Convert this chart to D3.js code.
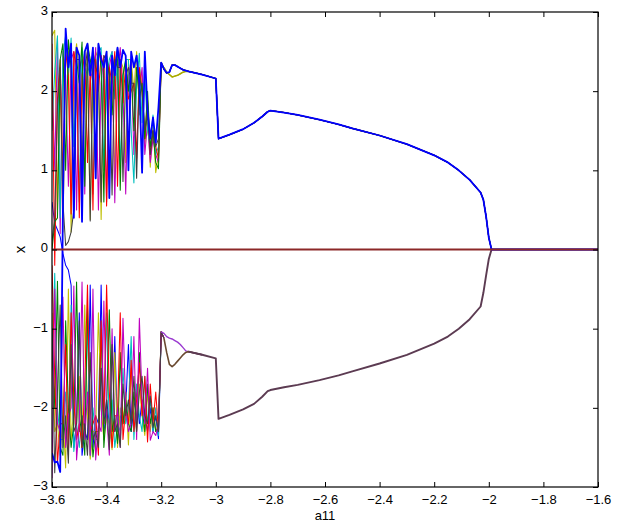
<!DOCTYPE html>
<html><head><meta charset="utf-8">
<script src="https://cdn.jsdelivr.net/npm/d3@7"></script>
<style>
html,body{margin:0;padding:0;background:#fff;}
svg{display:block;font-family:"Liberation Sans",Arial,Helvetica,sans-serif;}
</style></head>
<body>
<svg id="chart" width="617" height="523"></svg>
<script>
// ---------------- data ----------------
const xTicks = [-3.6, -3.4, -3.2, -3.0, -2.8, -2.6, -2.4, -2.2, -2.0, -1.8, -1.6];
const yTicks = [-3, -2, -1, 0, 1, 2, 3];

// a11 values of the chaotic region
const aChaos = [-3.60,-3.59,-3.58,-3.57,-3.56,-3.55,-3.54,-3.53,-3.52,-3.51,
                -3.50,-3.49,-3.48,-3.47,-3.46,-3.45,-3.44,-3.43,-3.42,-3.41,
                -3.40,-3.39,-3.38,-3.37,-3.36,-3.35,-3.34,-3.33,-3.32,-3.31,
                -3.30,-3.29,-3.28,-3.27,-3.26,-3.25,-3.24,-3.23,-3.22,-3.21];

// upper group (chaotic part)
const upYellow  = [2.70,2.77,0.50,2.20,0.22,2.40,2.50,0.22,2.30,2.60, 2.20,0.50,2.40,2.30,0.38,2.10,2.50,2.40,0.38,2.30, 2.50,1.90,2.40,0.90,2.30,2.40,2.30,1.10,2.40,2.40, 2.00,2.50,1.70,2.20,1.30,1.80,1.04,1.60,0.97,1.20];
const upMagenta = [2.30,1.00,2.67,0.20,2.50,2.20,0.80,2.40,2.50,0.50, 2.30,2.40,0.70,2.55,2.30,2.10,2.55,0.50,2.10,2.45, 0.60,2.30,2.50,0.59,2.20,2.55,2.00,0.70,2.20,2.40, 1.20,2.30,2.00,2.30,1.20,1.60,1.10,1.40,1.20,1.10];
const upCyan    = [1.50,2.25,2.70,0.40,2.45,2.71,2.20,2.67,1.30,2.50, 0.60,2.55,2.30,2.20,2.40,0.70,2.30,2.50,2.55,1.00, 2.20,2.40,2.50,1.90,2.40,1.00,2.20,2.40,2.40,1.50, 0.84,2.10,2.48,1.60,2.20,1.50,1.30,1.70,1.20,1.30];
const upRed     = [2.60,-0.20,1.90,2.40,0.90,2.50,2.20,0.45,2.50,2.30, 0.40,2.20,2.50,1.10,2.30,0.50,2.40,2.00,2.45,2.30, 0.55,2.30,2.10,2.50,0.80,2.40,1.85,2.35,1.90,2.00, 2.10,1.15,2.30,1.99,1.40,1.89,1.20,1.50,1.30,1.15];
const upGreen   = [0.00,0.35,0.40,2.40,2.60,1.00,2.65,2.30,0.50,2.40, 2.10,2.62,0.80,2.60,2.40,2.20,0.90,2.60,2.30,0.60, 2.45,2.20,1.70,2.30,2.55,0.75,2.20,2.40,2.00,2.30, 1.50,2.30,1.90,2.10,1.40,2.00,1.30,1.50,1.10,1.02];
const upGray    = [0.10,0.40,1.80,2.30,0.60,0.05,0.10,0.22,0.50,2.40, 2.40,1.00,2.30,2.50,0.36,2.50,2.30,2.20,0.60,2.45, 2.40,2.20,0.69,2.40,2.30,2.30,0.86,2.20,2.30,2.10, 2.10,0.90,2.20,2.00,1.50,1.70,1.20,1.50,1.30,1.40];
const upBlue    = [-2.57,-2.69,-2.68,-2.81,0.50,2.79,2.30,2.60,0.40,2.55, 2.45,0.35,2.50,2.60,2.20,2.55,0.90,2.60,2.40,2.30, 2.50,0.65,2.45,2.20,2.55,2.30,2.52,2.45,1.00,2.50, 2.30,2.45,2.10,0.97,2.50,1.75,1.40,1.67,1.35,1.80];

// lower group (chaotic part)
const loBlue    = [0.60,0.33,0.25,0.16,-0.05,-0.20,-0.26,-0.45,-2.50,-2.20, -0.80,-2.60,-2.30,-2.40,-0.45,-2.50,-2.10,-2.20,-0.45,-2.40, -1.90,-2.20,-2.45,-1.10,-2.30,-2.10,-2.20,-2.00,-1.20,-2.30, -2.00,-1.80,-2.20,-1.90,-2.10,-2.30,-2.00,-2.30,-2.10,-2.39];
const loYellow  = [-0.80,-2.30,-2.20,-2.60,-2.10,-2.76,-0.50,-2.40,-2.00,-2.20, -1.60,-2.50,-0.70,-2.10,-2.65,-2.30,-2.30,-0.80,-2.00,-2.40, -2.10,-2.20,-2.53,-1.30,-2.50,-2.00,-2.20,-1.80,-2.47,-1.50, -2.00,-2.30,-1.70,-2.10,-2.35,-1.80,-2.30,-2.00,-2.30,-2.20];
const loCyan    = [-1.50,-0.30,-2.00,-2.40,-2.40,-1.80,-2.30,-0.70,-2.55,-2.20, -2.50,-2.10,-2.30,-0.90,-2.60,-2.00,-2.40,-2.40,-1.50,-2.20, -0.80,-2.30,-1.90,-2.50,-2.20,-2.30,-1.50,-2.20,-2.00,-1.10, -2.40,-1.70,-2.10,-2.30,-1.60,-2.20,-1.90,-2.30,-2.00,-2.35];
const loGreen   = [-1.00,-2.00,-0.40,-2.50,-2.60,-0.90,-2.00,-2.50,-2.20,-0.41, -2.30,-2.10,-2.60,-0.72,-2.00,-2.62,-2.30,-2.30,-1.00,-2.50, -2.00,-0.76,-2.30,-2.10,-2.45,-1.30,-2.20,-1.90,-2.20,-2.30, -1.80,-2.20,-1.30,-2.00,-2.30,-1.70,-2.20,-2.00,-2.30,-2.25];
const loRed     = [-0.20,-1.60,-2.70,-2.20,-2.20,-1.20,-2.60,-0.80,-1.90,-2.40, -2.20,-2.50,-1.70,-0.45,-2.30,-2.20,-2.10,-2.60,-0.90,-2.20, -0.45,-1.80,-2.50,-2.10,-2.10,-0.80,-2.40,-2.00,-2.20,-1.40, -2.30,-1.90,-1.43,-2.10,-1.60,-2.43,-1.70,-2.20,-1.80,-2.30];
const loMagenta = [-2.89,-0.50,-2.20,-2.30,-0.60,-2.50,-2.10,-2.00,-0.46,-2.66, -2.20,-0.41,-2.40,-1.80,-2.60,-0.50,-2.66,-2.20,-2.30,-0.65, -2.10,-2.60,-1.00,-2.30,-2.00,-2.50,-0.87,-2.00,-2.30,-2.20, -1.10,-2.40,-0.87,-1.90,-2.20,-1.50,-2.41,-2.30,-2.35,-2.20];
const loGray    = [-1.00,-2.82,-1.80,-0.70,-2.50,-2.10,-2.70,-1.20,-2.30,-2.20, -0.90,-2.50,-2.20,-2.60,-1.30,-2.40,-2.30,-2.50,-1.50,-2.20, -1.90,-2.53,-1.20,-2.30,-2.20,-2.50,-1.70,-2.10,-1.90,-2.20, -1.60,-2.30,-1.80,-1.60,-2.10,-2.20,-1.85,-2.25,-2.10,-2.30];

// a11 values of the regular region
const aStable = [-3.20,-3.19,-3.18,-3.17,-3.16,-3.15,-3.14,-3.13,-3.12,-3.11,-3.10,-3.05,-3.00,-2.99,-2.95,-2.90,-2.86,-2.83,-2.81,-2.80,
                 -2.75,-2.70,-2.62,-2.55,-2.50,-2.40,-2.30,-2.20,-2.15,-2.11,-2.07,-2.03,-2.02,-2.01,-2.00,-1.99,-1.60];
const upStableA = [2.36,2.28,2.23,2.24,2.33,2.33,2.31,2.29,2.27,2.26,2.25,2.21,2.16,1.40,1.45,1.52,1.60,1.68,1.74,1.755,
                   1.73,1.70,1.64,1.58,1.53,1.44,1.33,1.19,1.10,1.00,0.88,0.72,0.63,0.42,0.15,0.00,0.00];
const upStableB = [2.36,2.30,2.24,2.21,2.18,2.19,2.20,2.22,2.24,2.25,2.25,2.21,2.16,1.40,1.45,1.52,1.60,1.68,1.74,1.755,
                   1.73,1.70,1.64,1.58,1.53,1.44,1.33,1.19,1.10,1.00,0.88,0.72,0.63,0.42,0.15,0.00,0.00];
const loStableA = [-1.04,-1.12,-1.30,-1.45,-1.48,-1.45,-1.41,-1.37,-1.33,-1.30,-1.29,-1.33,-1.375,-2.14,-2.09,-2.02,-1.95,-1.86,-1.79,-1.775,
                   -1.74,-1.71,-1.65,-1.59,-1.54,-1.44,-1.33,-1.19,-1.10,-1.00,-0.88,-0.72,-0.55,-0.33,-0.12,0.00,0.00];
const loStableB = [-1.04,-1.06,-1.10,-1.12,-1.13,-1.15,-1.17,-1.20,-1.24,-1.28,-1.29,-1.33,-1.375,-2.14,-2.09,-2.02,-1.95,-1.86,-1.79,-1.775,
                   -1.74,-1.71,-1.65,-1.59,-1.54,-1.44,-1.33,-1.19,-1.10,-1.00,-0.88,-0.72,-0.55,-0.33,-0.12,0.00,0.00];

const zeroA = [-3.60, -1.60];
const zeroX = [0, 0];

// ---------------- layout ----------------
const svg = d3.select("#chart");
const L = 52, R = 598, T = 12, B = 487;
const x = d3.scaleLinear().domain([-3.6, -1.6]).range([L, R]);
const y = d3.scaleLinear().domain([-3, 3]).range([B, T]);

svg.append("defs").append("clipPath").attr("id","clip")
  .append("rect").attr("x",L).attr("y",T).attr("width",R-L).attr("height",B-T);

const plot = svg.append("g").attr("clip-path","url(#clip)");
const line = d3.line().x(d => x(d[0])).y(d => y(d[1]));
const pairs = (as, vs) => as.map((a,i) => [a, vs[i]]);

const C = {b:"#0000ff", g:"#008000", r:"#ff0000", c:"#00bfbf", m:"#bf00bf", y:"#bfbf00", k:"#404040"};

function draw(pts, color, w){
  plot.append("path").attr("d", line(pts)).attr("fill","none")
    .attr("stroke", color).attr("stroke-width", w).attr("stroke-linejoin","round");
}

// lower group
const lowerSeries = [[loBlue,C.b],[loYellow,C.y],[loCyan,C.c],[loGreen,C.g],[loRed,C.r],[loMagenta,C.m],[loGray,C.k]];
lowerSeries.forEach(([v,c]) => {
  const pts = pairs(aChaos, v).concat([[aStable[0], loStableA[0]], [aStable[1], loStableA[1]]]);
  draw(pts, c, 1.05);
});
draw(pairs(aStable.slice(0,12), loStableB.slice(0,12)), "#9a3ad0", 1.4);
draw(pairs(aStable.slice(1,12), loStableA.slice(1,12)), "#6a4a30", 1.6);
draw(pairs(aStable.slice(10), loStableA.slice(10)), "#5c3b52", 1.9);

// upper group
const upperSeries = [[upYellow,C.y,upStableB],[upMagenta,C.m,upStableA],[upCyan,C.c,upStableA],[upRed,C.r,upStableA],
                     [upGreen,C.g,upStableA],[upGray,C.k,upStableA]];
upperSeries.forEach(([v,c,s]) => {
  draw(pairs(aChaos, v).concat(pairs(aStable, s)), c, 1.05);
});
draw(pairs(aStable.slice(1,11), upStableB.slice(1,11)), "#a9a900", 1.5);
draw(pairs(aChaos, upBlue).concat(pairs(aStable, upStableA)), C.b, 1.8);

// zero branch
draw(pairs(zeroA, zeroX), "#8c2828", 2);

// ---------------- axes ----------------
const fmt = d => (d < 0 ? "\u2212" : "") + Math.abs(d).toString();
const fmtX = d => (d < 0 ? "\u2212" : "") + (Math.abs(d) === 3 || Math.abs(d) === 2 ? Math.abs(d).toString() : Math.abs(d).toFixed(1));

const gx = svg.append("g").attr("transform",`translate(0,${B})`)
  .call(d3.axisBottom(x).tickValues(xTicks).tickSize(-5).tickPadding(8).tickFormat(fmtX));
const gxt = svg.append("g").attr("transform",`translate(0,${T})`)
  .call(d3.axisTop(x).tickValues(xTicks).tickSize(-5).tickFormat(""));
const gy = svg.append("g").attr("transform",`translate(${L},0)`)
  .call(d3.axisLeft(y).tickValues(yTicks).tickSize(-5).tickPadding(5).tickFormat(fmt));
const gyr = svg.append("g").attr("transform",`translate(${R},0)`)
  .call(d3.axisRight(y).tickValues(yTicks).tickSize(-5).tickFormat(""));

[gx,gxt,gy,gyr].forEach(g => {
  g.select(".domain").remove();
  g.selectAll("line").attr("stroke","#000").attr("stroke-width",1);
  g.selectAll("text").attr("font-size",13).attr("fill","#000")
    .attr("font-family",'"Liberation Sans",Arial,sans-serif');
});
gy.selectAll("text").attr("x",-4).attr("dy","0.18em");

svg.append("rect").attr("x",L).attr("y",T).attr("width",R-L).attr("height",B-T)
  .attr("fill","none").attr("stroke","#000").attr("stroke-width",1.2);

svg.append("text").attr("x",(L+R)/2).attr("y",519.5).attr("text-anchor","middle")
  .attr("font-size",13).text("a11");
svg.append("text").attr("transform",`translate(25,${y(0)}) rotate(-90)`)
  .attr("text-anchor","middle").attr("font-size",15).text("x");
</script>
</body></html>
